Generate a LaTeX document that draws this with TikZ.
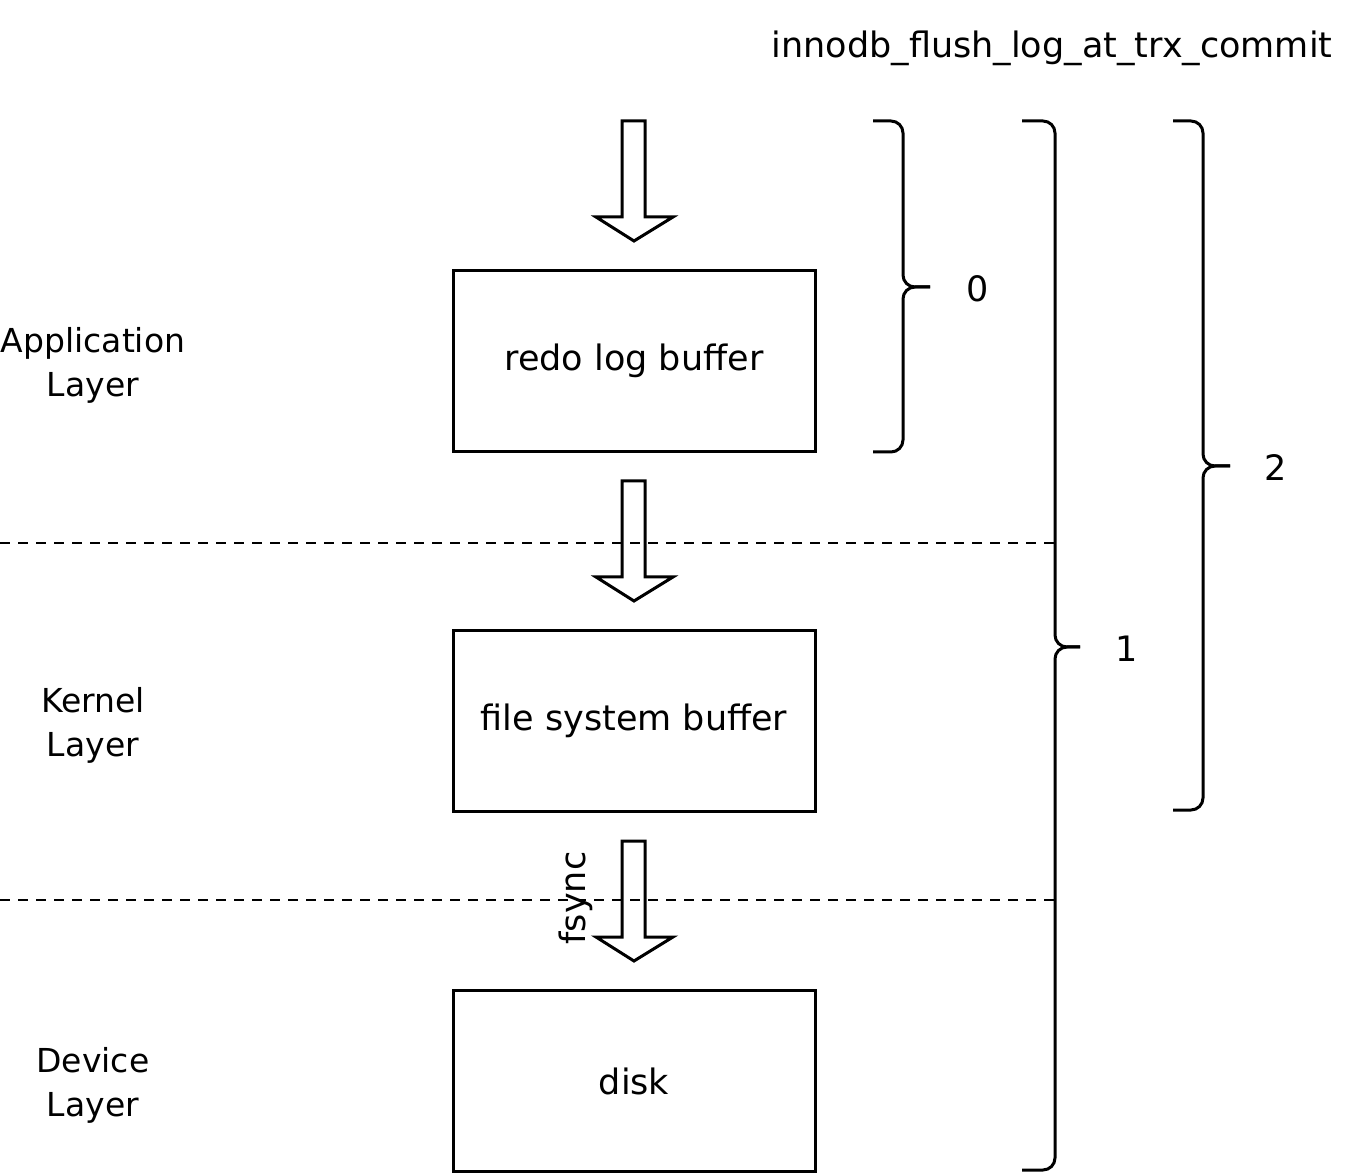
\documentclass[tikz,border=0pt]{standalone}
\usepackage{fontspec}
\setmainfont{DejaVu Sans}
\usepackage{tikz}
\usetikzlibrary{positioning,calc}
\tikzset{
  buf/.style = {draw, line width = 1.5pt, minimum width = 181pt, minimum height = 90.5pt, inner sep = 0pt},
  layer/.style = {align = center, font = \fontsize{16.5}{22}\selectfont},
  brk/.style = {line width = 1.5pt, rounded corners = 6pt},
  sep/.style = {line width = 1.1pt, dash pattern = on 5pt off 4pt},
  hollow/.pic = {\draw[line width = 1.5pt] (-12,0) -- (11,0) -- (11,96) -- (39,96) -- (0,120) -- (-38,96) -- (-12,96) -- cycle;}
}
\begin{document}
\begin{tikzpicture}[x = .5pt, y = -.5pt, font = \fontsize{17.5}{22}\selectfont]
\useasboundingbox (0,0) rectangle (1356,1176);
\node (param) at (1052,48) {innodb\_flush\_log\_at\_trx\_commit};
\node[layer] (app) at (93,365) {Application\\Layer};
\node[layer] (kern) at (93,725) {Kernel\\Layer};
\node[layer] (dev) at (93,1085) {Device\\Layer};
\draw[sep] (0,543) -- (1055,543);
\draw[sep] (0,900) -- (1055,900);
\node[buf] (redo) at (634,361) {redo log buffer};
\node[buf] (fsbuf) at (634,721) {file system buffer};
\node[buf] (disk) at (634,1081) {disk};
\pic at (634,121) {hollow};
\pic at (634,481) {hollow};
\pic at (634,841) {hollow};
\node[rotate = 90] (fsync) at (576,898) {fsync};
% braces
\coordinate (b0t) at (873,121);
\coordinate (b0b) at (873,452);
\coordinate (b0m) at (930,287);
\coordinate (b1t) at (1022,121);
\coordinate (b1b) at (1022,1170);
\coordinate (b1m) at (1080,647);
\coordinate (b2t) at (1173,121);
\coordinate (b2b) at (1173,810);
\coordinate (b2m) at (1230,466);
\draw[brk] (b0t) -- ++(30,0) |- (b0m);
\draw[brk] (b0b) -- ++(30,0) |- (b0m);
\draw[brk] (b1t) -- ++(33,0) |- (b1m);
\draw[brk] (b1b) -- ++(33,0) |- (b1m);
\draw[brk] (b2t) -- ++(30,0) |- (b2m);
\draw[brk] (b2b) -- ++(30,0) |- (b2m);
\node (v0) at (978,289) {0};
\node (v1) at (1127,649) {1};
\node (v2) at (1276,468) {2};
\end{tikzpicture}
\end{document}
